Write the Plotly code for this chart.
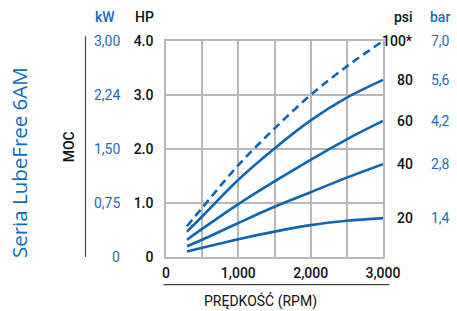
import plotly.graph_objects as go

rpm = [290, 500, 1000, 1500, 2000, 2500, 3000]
p100 = [0.57, 0.91, 1.70, 2.38, 3.00, 3.53, 4.00]
p80 = [0.47, 0.75, 1.43, 2.01, 2.53, 2.95, 3.28]
p60 = [0.32, 0.52, 0.98, 1.40, 1.80, 2.18, 2.52]
p40 = [0.20, 0.32, 0.63, 0.93, 1.20, 1.47, 1.72]
p20 = [0.10, 0.17, 0.33, 0.47, 0.59, 0.67, 0.72]

series = [p100, p80, p60, p40, p20]
psi_labels = ["100*", "80", "60", "40", "20"]
bar_labels = ["7,0", "5,6", "4,2", "2,8", "1,4"]

hp_ticks = [0, 1, 2, 3, 4]
hp_text = ["0", "1.0", "2.0", "3.0", "4.0"]
kw_text = ["0", "0,75", "1,50", "2,24", "3,00"]

x_ticks = [0, 500, 1000, 1500, 2000, 2500, 3000]
x_text = ["0", "", "1,000", "", "2,000", "", "3,000"]

BLUE = "#0b66b3"
TBLUE = "#1a6dbd"
FONT = "Roboto, sans-serif"
W = 500
SZ = 14

def f(color, weight=W):
    return dict(color=color, size=SZ, family=FONT, weight=weight)

fig = go.Figure()
for i, s in enumerate(series):
    fig.add_trace(go.Scatter(
        x=rpm, y=s, mode="lines",
        line=dict(color=BLUE, width=2.6, shape="spline",
                  dash="8px,5px" if i == 0 else "solid"),
        showlegend=False, hoverinfo="skip"))

ann = []
for v, t in zip(hp_ticks, kw_text):
    ann.append(dict(x=-0.205, y=v, xref="paper", yref="y", text=t, showarrow=False,
                    xanchor="right", yanchor="middle", font=f(TBLUE, 400)))
for s, p, b in zip(series, psi_labels, bar_labels):
    ann.append(dict(x=1.149, y=s[-1], xref="paper", yref="y", text=p, showarrow=False,
                    xanchor="right", yanchor="middle", font=f("#111")))
    ann.append(dict(x=1.319, y=s[-1], xref="paper", yref="y", text=b, showarrow=False,
                    xanchor="right", yanchor="middle", font=f(TBLUE, 400)))
hy = (257.3 - 16.7) / 216.6
ann += [
    dict(x=-0.228, y=hy, xref="paper", yref="paper", text="kW", showarrow=False,
         xanchor="right", yanchor="middle", font=f(TBLUE)),
    dict(x=-0.044, y=hy, xref="paper", yref="paper", text="HP", showarrow=False,
         xanchor="right", yanchor="middle", font=f("#111")),
    dict(x=1.149, y=hy, xref="paper", yref="paper", text="psi", showarrow=False,
         xanchor="right", yanchor="middle", font=f("#111")),
    dict(x=1.319, y=hy, xref="paper", yref="paper", text="bar", showarrow=False,
         xanchor="right", yanchor="middle", font=f(TBLUE)),
    dict(x=-0.446, y=0.509, xref="paper", yref="paper", text="MOC", showarrow=False,
         textangle=-90, xanchor="center", yanchor="middle", font=f("#111")),
    dict(x=-0.68, y=0.437, xref="paper", yref="paper", text="Seria LubeFree 6AM", showarrow=False,
         textangle=-90, xanchor="center", yanchor="middle",
         font=dict(color="#0b6cc0", size=20.5, family="Open Sans, Noto Sans, sans-serif")),
    dict(x=0.437, y=(257.3 - 301.7) / 216.6, xref="paper", yref="paper", text="PRĘDKOŚĆ (RPM)",
         showarrow=False, xanchor="center", yanchor="middle", font=f("#111", 400)),
]

shapes = [
    dict(type="line", xref="paper", yref="paper", x0=(86.3 - 166.5) / 216.2, x1=(86.3 - 166.5) / 216.2,
         y0=0, y1=(257.3 - 36) / 216.6, line=dict(color="#444", width=1.2)),
    dict(type="line", xref="paper", yref="paper", x0=(164 - 166.5) / 216.2, x1=(389 - 166.5) / 216.2,
         y0=(257.3 - 285) / 216.6, y1=(257.3 - 285) / 216.6, line=dict(color="#444", width=1.2)),
]

fig.update_layout(
    width=457, height=311, autosize=False,
    margin=dict(l=166, r=74, t=41, b=54),
    paper_bgcolor="white", plot_bgcolor="white",
    annotations=ann, shapes=shapes,
    font=f("#111"),
    xaxis=dict(range=[0, 3000], tickvals=x_ticks, ticktext=x_text, showgrid=True,
               gridcolor="#b8b8b8", gridwidth=1.5, zeroline=False, showline=True,
               linecolor="#b8b8b8", linewidth=1.5, mirror=True, ticks="outside",
               ticklen=2, tickcolor="rgba(0,0,0,0)", fixedrange=True, tickfont=f("#111")),
    yaxis=dict(range=[0, 4], tickvals=hp_ticks, ticktext=hp_text, showgrid=True,
               gridcolor="#b8b8b8", gridwidth=1.5, zeroline=False, showline=True,
               linecolor="#b8b8b8", linewidth=1.5, mirror=True, ticks="outside",
               ticklen=8, tickcolor="rgba(0,0,0,0)", fixedrange=True, tickfont=f("#111")),
)

fig.write_html("out.html", config={"displayModeBar": False},
               post_script="document.body.style.margin='0';document.body.style.padding='0';")
